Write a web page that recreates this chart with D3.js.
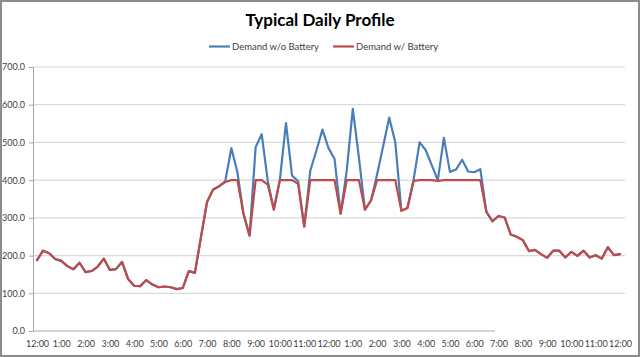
<!DOCTYPE html>
<html>
<head>
<meta charset="utf-8">
<script src="https://cdn.jsdelivr.net/npm/d3@7"></script>
<style>
  html, body { margin: 0; padding: 0; background: #fff; }
  svg { display: block; }
</style>
</head>
<body>
<svg id="chart" width="640" height="357"></svg>
<script>
// ---- data (15-minute intervals, 12:00 AM to 12:00 AM) ----
const hourLabels = ["12:00","1:00","2:00","3:00","4:00","5:00","6:00","7:00","8:00","9:00","10:00","11:00",
                    "12:00","1:00","2:00","3:00","4:00","5:00","6:00","7:00","8:00","9:00","10:00","11:00","12:00"];
const yTicks = [0, 100, 200, 300, 400, 500, 600, 700];
const seriesNames = ["Demand w/o Battery", "Demand w/ Battery"];

const demandWithout = [
  188, 213, 206, 191, 186, 172, 164, 181, 156, 159, 171, 192, 162, 164, 183, 138,
  120, 119, 135, 123, 116, 118, 116, 111, 114, 159, 154, 249, 342, 375, 384, 397,
  485, 421, 311, 253, 487, 522, 398, 322, 402, 551, 412, 397, 277, 425, 478, 534,
  485, 456, 311, 425, 589, 461, 322, 346, 415, 490, 566, 500, 319, 326, 400, 500,
  480, 440, 400, 512, 422, 428, 454, 423, 421, 429, 316, 291, 305, 301, 256, 250,
  241, 212, 215, 204, 194, 213, 213, 195, 210, 199, 213, 195, 201, 192, 222, 201,
  204
];
const demandWith = [
  188, 213, 206, 191, 186, 172, 164, 181, 156, 159, 171, 192, 162, 164, 183, 138,
  120, 119, 135, 123, 116, 118, 116, 111, 114, 159, 154, 249, 342, 375, 384, 395,
  400, 400, 311, 253, 400, 400, 388, 322, 400, 400, 400, 390, 277, 400, 400, 400,
  400, 400, 311, 400, 400, 400, 322, 346, 400, 400, 400, 400, 319, 326, 398, 400,
  400, 400, 398, 400, 400, 400, 400, 400, 400, 400, 316, 291, 305, 301, 256, 250,
  241, 212, 215, 204, 194, 213, 213, 195, 210, 199, 213, 195, 201, 192, 222, 201,
  204
];

const colors = ["#4A7EBB", "#BE4B48"];
const textColor = "#404040";
const font = "Lato, 'Open Sans', sans-serif";

// ---- layout ----
const svg = d3.select("#chart");
const W = 640, H = 357;
const plotLeft = 33, plotRight = 625, plotTop = 67, plotBottom = 331;

svg.append("rect").attr("x", 0).attr("y", 0).attr("width", W).attr("height", H).attr("fill", "#fff");

const x = d3.scaleLinear().domain([0, demandWith.length - 1]).range([37, 620]);
const y = d3.scaleLinear().domain([0, 700]).range([plotBottom, plotTop]);

// gridlines
svg.append("g").selectAll("line").data(yTicks.filter(d => d > 0)).join("line")
  .attr("x1", plotLeft).attr("x2", plotRight)
  .attr("y1", d => y(d)).attr("y2", d => y(d))
  .attr("stroke", "#d9d9d9").attr("stroke-width", 1.2);

// y axis
const yAxis = d3.axisLeft(y).tickValues(yTicks).tickSize(4).tickFormat(d3.format(".1f"));
const gy = svg.append("g").attr("transform", `translate(${plotLeft},0)`).call(yAxis);
gy.select(".domain").attr("stroke", "#a6a6a6");
gy.selectAll(".tick line").attr("stroke", "#a6a6a6");
gy.selectAll(".tick text").attr("fill", textColor).attr("font-family", font).attr("font-size", 9).attr("x", -8);

// x axis baseline (visible part as in reference)
svg.append("line").attr("x1", plotLeft).attr("x2", 495)
  .attr("y1", plotBottom).attr("y2", plotBottom)
  .attr("stroke", "#a6a6a6").attr("stroke-width", 1);

// x labels
const labelIdx = hourLabels.map((d, i) => i * 4);
const xAxis = d3.axisBottom(x).tickValues(labelIdx).tickSize(0)
  .tickFormat((d, i) => hourLabels[i]);
const gx = svg.append("g").attr("transform", `translate(0,${plotBottom})`).call(xAxis);
gx.select(".domain").remove();
gx.selectAll(".tick text").attr("fill", textColor).attr("font-family", font).attr("font-size", 9).attr("dy", "1.45em");

// lines
const line = d3.line().x((d, i) => x(i)).y(d => y(d));
[demandWithout, demandWith].forEach((s, k) => {
  svg.append("path").datum(s).attr("d", line)
    .attr("fill", "none").attr("stroke", colors[k]).attr("stroke-width", 2.2)
    .attr("stroke-linejoin", "round").attr("stroke-linecap", "round");
});

// title
svg.append("text").attr("x", 320).attr("y", 25.5).attr("text-anchor", "middle")
  .attr("font-family", font).attr("font-weight", "bold").attr("font-size", 17)
  .attr("fill", "#000").text("Typical Daily Profile");

// legend
const legendItems = [{x: 209, name: seriesNames[0], c: colors[0]}, {x: 333, name: seriesNames[1], c: colors[1]}];
const lg = svg.append("g");
legendItems.forEach(it => {
  lg.append("line").attr("x1", it.x).attr("x2", it.x + 21).attr("y1", 46.5).attr("y2", 46.5)
    .attr("stroke", it.c).attr("stroke-width", 2.2);
  lg.append("text").attr("x", it.x + 23).attr("y", 50).attr("font-family", font).attr("font-size", 9.5)
    .attr("fill", textColor).text(it.name);
});

// chart border
svg.append("rect").attr("x", 1).attr("y", 1).attr("width", W - 2).attr("height", H - 2)
  .attr("fill", "none").attr("stroke", "#8c8c8c").attr("stroke-width", 2);
</script>
</body>
</html>
